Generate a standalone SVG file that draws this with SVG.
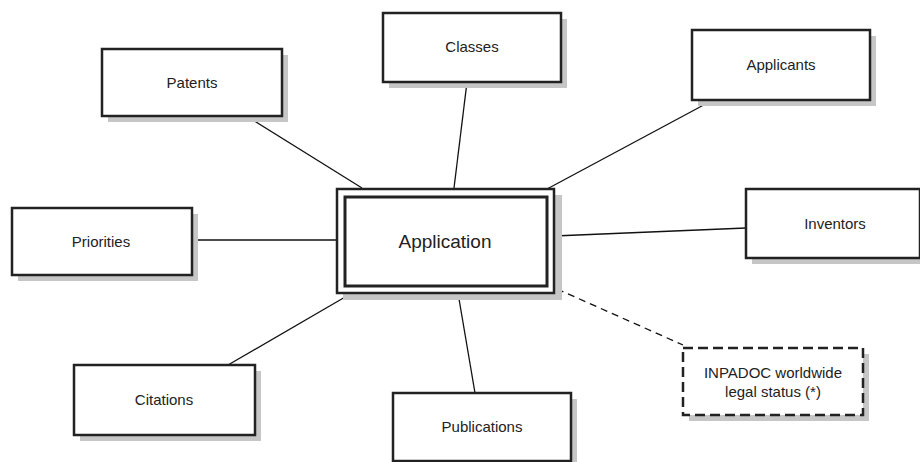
<svg xmlns="http://www.w3.org/2000/svg" width="920" height="462" viewBox="0 0 920 462">
<style>
.sh{fill:#c6c6c6;stroke:none}
.bx{fill:#fff;stroke:#222;stroke-width:2.5}
.dbx{fill:#fff;stroke:#222;stroke-width:2.5;stroke-dasharray:10 5}
.t{font-family:"Liberation Sans",Arial,sans-serif;font-size:15px;fill:#222;text-anchor:middle}
.big{font-size:19px}
.ln{stroke:#111;stroke-width:1.3;fill:none}
.dl{stroke-dasharray:7 5}
</style>
<rect width="920" height="462" fill="#fff"/>
<g id="connectors">
<line class="ln" x1="248" y1="117" x2="362" y2="188"/>
<line class="ln" x1="467" y1="82" x2="454" y2="188"/>
<line class="ln" x1="713" y1="100" x2="547" y2="189"/>
<line class="ln" x1="746" y1="228" x2="554" y2="236"/>
<line class="ln" x1="192" y1="240" x2="337" y2="240"/>
<line class="ln" x1="228" y1="365" x2="352" y2="293"/>
<line class="ln" x1="475" y1="393" x2="458" y2="293"/>
<line class="ln dl" x1="557" y1="289" x2="683" y2="345"/>
</g>
<g id="application">
<rect class="sh" x="343" y="195" width="219" height="105"/>
<rect class="bx" x="337" y="189" width="217" height="104"/>
<rect class="bx" x="345" y="197" width="202" height="89" style="stroke-width:3"/>
<text class="t big" x="445" y="248">Application</text>
</g>
<g id="patents">
<rect class="sh" x="108" y="55" width="180" height="67"/>
<rect class="bx" x="102" y="49" width="180" height="67"/>
<text class="t" x="192" y="88">Patents</text>
</g>
<g id="classes">
<rect class="sh" x="389" y="19" width="178" height="69"/>
<rect class="bx" x="383" y="13" width="178" height="69"/>
<text class="t" x="472" y="52">Classes</text>
</g>
<g id="applicants">
<rect class="sh" x="698" y="36" width="178" height="70"/>
<rect class="bx" x="692" y="30" width="178" height="70"/>
<text class="t" x="781" y="70">Applicants</text>
</g>
<g id="inventors">
<rect class="sh" x="752" y="195" width="174" height="69"/>
<rect class="bx" x="746" y="189" width="174" height="69"/>
<text class="t" x="835" y="229">Inventors</text>
</g>
<g id="priorities">
<rect class="sh" x="18" y="214" width="180" height="67"/>
<rect class="bx" x="12" y="208" width="180" height="67"/>
<text class="t" x="101" y="247">Priorities</text>
</g>
<g id="citations">
<rect class="sh" x="80" y="371" width="181" height="70"/>
<rect class="bx" x="74" y="365" width="181" height="70"/>
<text class="t" x="164" y="405">Citations</text>
</g>
<g id="publications">
<rect class="sh" x="399" y="399" width="178" height="68"/>
<rect class="bx" x="393" y="393" width="178" height="68"/>
<text class="t" x="482" y="432">Publications</text>
</g>
<g id="inpadoc">
<rect class="sh" x="689" y="354" width="180" height="67"/>
<rect class="dbx" x="683" y="348" width="180" height="67"/>
<text class="t" x="773" y="378">INPADOC worldwide</text>
<text class="t" x="773" y="397">legal status (*)</text>
</g>
</svg>
